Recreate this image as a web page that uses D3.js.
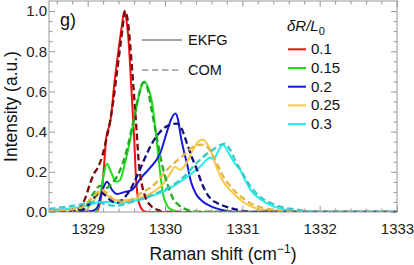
<!DOCTYPE html>
<html><head><meta charset="utf-8">
<script src="https://cdn.jsdelivr.net/npm/d3@7"></script>
<style>body{margin:0;background:#fff}svg{display:block}text{font-family:"Liberation Sans",Arial,sans-serif}</style>
</head><body><svg id="c" width="414" height="265"></svg>
<script>
// ---- data ----
const categories = ["0.1", "0.15", "0.2", "0.25", "0.3"];
const solidColors = ["#f01010", "#18e018", "#1818dc", "#f8c848", "#20eeee"];
const dashColors  = ["#7a0a0a", "#22aa22", "#10107a", "#e8b440", "#3cc8c8"];
const xTicks = [1329, 1330, 1331, 1332, 1333];
const yTicks = [0, 0.2, 0.4, 0.6, 0.8, 1.0];

// EKFG (solid)
const ekfg01X = [1328.5, 1329.11, 1329.15, 1329.18, 1329.21, 1329.24, 1329.28, 1329.30, 1329.34, 1329.39, 1329.44, 1329.474, 1329.50, 1329.535, 1329.567, 1329.60, 1329.625, 1329.65, 1329.69, 1329.74, 1329.81, 1333];
const ekfg01Y = [0, 0, 0.03, 0.09, 0.22, 0.37, 0.43, 0.47, 0.62, 0.78, 0.92, 1.0, 0.96, 0.82, 0.60, 0.38, 0.17, 0.07, 0.02, 0.003, 0, 0];
const ekfg015X = [1328.5, 1329.10, 1329.15, 1329.20, 1329.25, 1329.30, 1329.37, 1329.42, 1329.48, 1329.55, 1329.63, 1329.69, 1329.735, 1329.78, 1329.83, 1329.88, 1329.93, 1329.97, 1330.03, 1330.09, 1330.19, 1333];
const ekfg015Y = [0, 0, 0.05, 0.17, 0.24, 0.20, 0.15, 0.16, 0.24, 0.36, 0.52, 0.62, 0.65, 0.62, 0.55, 0.40, 0.22, 0.10, 0.03, 0.01, 0, 0];
const ekfg02X = [1328.5, 1328.90, 1329.056, 1329.121, 1329.185, 1329.25, 1329.315, 1329.379, 1329.483, 1329.573, 1329.69, 1329.806, 1329.935, 1330.026, 1330.078, 1330.136, 1330.168, 1330.207, 1330.246, 1330.285, 1330.336, 1330.401, 1330.479, 1330.582, 1330.737, 1330.905, 1333];
const ekfg02Y = [0, 0.003, 0.005, 0.02, 0.10, 0.15, 0.11, 0.09, 0.10, 0.11, 0.17, 0.22, 0.29, 0.40, 0.46, 0.49, 0.46, 0.37, 0.30, 0.24, 0.15, 0.09, 0.055, 0.03, 0.01, 0, 0];
const ekfg025X = [1328.5, 1328.966, 1329.069, 1329.172, 1329.263, 1329.354, 1329.483, 1329.612, 1329.806, 1329.974, 1330.065, 1330.129, 1330.194, 1330.272, 1330.362, 1330.427, 1330.485, 1330.543, 1330.595, 1330.66, 1330.737, 1330.815, 1330.892, 1331.009, 1331.164, 1331.358, 1331.552, 1333];
const ekfg025Y = [0.003, 0.01, 0.05, 0.10, 0.08, 0.06, 0.06, 0.065, 0.09, 0.14, 0.19, 0.225, 0.21, 0.24, 0.31, 0.35, 0.36, 0.34, 0.30, 0.23, 0.16, 0.12, 0.09, 0.05, 0.02, 0.007, 0, 0];
const ekfg03X = [1328.5, 1328.836, 1329.03, 1329.16, 1329.289, 1329.418, 1329.586, 1329.754, 1329.897, 1330.026, 1330.155, 1330.285, 1330.453, 1330.582, 1330.634, 1330.685, 1330.75, 1330.828, 1330.905, 1330.97, 1331.048, 1331.125, 1331.229, 1331.358, 1331.513, 1331.681, 1331.875, 1333];
const ekfg03Y = [0.01, 0.02, 0.035, 0.05, 0.05, 0.045, 0.055, 0.07, 0.09, 0.11, 0.14, 0.175, 0.225, 0.27, 0.265, 0.30, 0.335, 0.29, 0.24, 0.21, 0.15, 0.10, 0.065, 0.035, 0.015, 0.003, 0, 0];

// COM (dashed)
const com01X = [1328.5, 1328.84, 1328.90, 1328.97, 1329.03, 1329.08, 1329.13, 1329.19, 1329.24, 1329.29, 1329.33, 1329.38, 1329.43, 1329.47, 1329.483, 1329.52, 1329.55, 1329.59, 1329.63, 1329.66, 1329.70, 1329.75, 1329.82, 1329.91, 1330.01, 1333];
const com01Y = [0, 0, 0.02, 0.07, 0.14, 0.19, 0.22, 0.28, 0.36, 0.45, 0.55, 0.70, 0.85, 0.97, 1.0, 0.95, 0.83, 0.63, 0.42, 0.25, 0.14, 0.07, 0.03, 0.01, 0, 0];
const com015X = [1328.5, 1328.84, 1328.98, 1329.07, 1329.16, 1329.24, 1329.31, 1329.41, 1329.50, 1329.59, 1329.66, 1329.72, 1329.77, 1329.83, 1329.90, 1329.96, 1330.03, 1330.10, 1330.19, 1330.30, 1330.45, 1333];
const com015Y = [0, 0, 0.03, 0.09, 0.13, 0.12, 0.14, 0.20, 0.30, 0.45, 0.58, 0.645, 0.62, 0.50, 0.36, 0.24, 0.14, 0.07, 0.03, 0.01, 0, 0];
const com02X = [1328.5, 1328.90, 1329.00, 1329.08, 1329.16, 1329.22, 1329.29, 1329.37, 1329.47, 1329.55, 1329.64, 1329.73, 1329.83, 1329.94, 1330.04, 1330.155, 1330.22, 1330.285, 1330.35, 1330.414, 1330.479, 1330.543, 1330.608, 1330.673, 1330.841, 1330.97, 1331.125, 1333];
const com02Y = [0, 0.005, 0.03, 0.07, 0.10, 0.085, 0.06, 0.045, 0.07, 0.11, 0.18, 0.26, 0.34, 0.40, 0.43, 0.44, 0.41, 0.34, 0.27, 0.21, 0.14, 0.09, 0.06, 0.045, 0.02, 0.008, 0, 0];
const com025X = [1328.5, 1328.90, 1329.056, 1329.185, 1329.263, 1329.341, 1329.483, 1329.677, 1329.871, 1330.026, 1330.233, 1330.388, 1330.466, 1330.543, 1330.608, 1330.685, 1330.763, 1330.841, 1330.97, 1331.099, 1331.229, 1331.423, 1331.617, 1331.81, 1333];
const com025Y = [0.005, 0.02, 0.07, 0.11, 0.09, 0.06, 0.05, 0.09, 0.14, 0.21, 0.28, 0.33, 0.335, 0.325, 0.29, 0.23, 0.17, 0.13, 0.08, 0.045, 0.025, 0.01, 0.003, 0, 0];
const com03X = [1328.5, 1328.875, 1329.095, 1329.224, 1329.354, 1329.483, 1329.612, 1329.741, 1329.871, 1329.987, 1330.091, 1330.194, 1330.285, 1330.375, 1330.453, 1330.543, 1330.621, 1330.698, 1330.776, 1330.841, 1330.905, 1331.022, 1331.099, 1331.177, 1331.267, 1331.397, 1331.552, 1331.707, 1331.875, 1332.004, 1333];
const com03Y = [0.015, 0.035, 0.05, 0.04, 0.03, 0.04, 0.055, 0.07, 0.09, 0.11, 0.13, 0.16, 0.19, 0.23, 0.26, 0.29, 0.31, 0.33, 0.34, 0.31, 0.26, 0.18, 0.13, 0.095, 0.065, 0.04, 0.02, 0.012, 0.003, 0, 0];

const solidX = [ekfg01X, ekfg015X, ekfg02X, ekfg025X, ekfg03X];
const solidY = [ekfg01Y, ekfg015Y, ekfg02Y, ekfg025Y, ekfg03Y];
const dashX = [com01X, com015X, com02X, com025X, com03X];
const dashY = [com01Y, com015Y, com02Y, com025Y, com03Y];

// ---- chart ----
const svg = d3.select("#c");
const L = 49, R = 397, T = 1, B = 212;
const x = d3.scaleLinear().domain([1328.5, 1333]).range([L, R]);
const y = d3.scaleLinear().domain([0, 1.05]).range([B, T]);

svg.append("defs").append("clipPath").attr("id", "clip")
  .append("rect").attr("x", L).attr("y", T - 2).attr("width", R - L).attr("height", B - T + 2);

const line = d3.line().x(d => x(d[0])).y(d => y(d[1])).curve(d3.curveMonotoneX);
const plot = svg.append("g").attr("clip-path", "url(#clip)");

solidX.forEach((xs, i) => {
  plot.append("path").datum(xs.map((v, j) => [v, solidY[i][j]]))
    .attr("d", line).attr("fill", "none").attr("stroke", solidColors[i])
    .attr("stroke-width", 2);
});
dashX.forEach((xs, i) => {
  plot.append("path").datum(xs.map((v, j) => [v, dashY[i][j]]))
    .attr("d", line).attr("fill", "none").attr("stroke", dashColors[i])
    .attr("stroke-width", 2.3).attr("stroke-dasharray", "6.5,3.5");
});

// frame + ticks
const frameColor = "#999";
const xMinor = d3.range(1328.6, 1333.0, 0.2).filter(v => Math.abs(v - Math.round(v)) > 0.01);
const yMinor = d3.range(0.05, 1.05, 0.05).filter(v => Math.abs(v * 5 - Math.round(v * 5)) > 0.01);

function styleAxis(g) {
  g.select(".domain").remove();
  g.selectAll(".tick line").attr("stroke", frameColor);
  g.selectAll("text").attr("fill", "#222").style("font-size", "15px").style("font-family", "'Liberation Sans', Arial, sans-serif");
}
svg.append("g").attr("transform", `translate(0,${B})`)
  .call(d3.axisBottom(x).tickValues(xTicks).tickFormat(d3.format("d")).tickSize(-6).tickPadding(11)).call(styleAxis);
svg.append("g").attr("transform", `translate(0,${B})`)
  .call(d3.axisBottom(x).tickValues(xMinor).tickFormat("").tickSize(-3.5)).call(styleAxis);
svg.append("g").attr("transform", `translate(0,${T})`)
  .call(d3.axisTop(x).tickValues(xTicks).tickFormat("").tickSize(-6)).call(styleAxis);
svg.append("g").attr("transform", `translate(0,${T})`)
  .call(d3.axisTop(x).tickValues(xMinor).tickFormat("").tickSize(-3.5)).call(styleAxis);
svg.append("g").attr("transform", `translate(${L},0)`)
  .call(d3.axisLeft(y).tickValues(yTicks).tickFormat(d3.format(".1f")).tickSize(-6).tickPadding(2)).call(styleAxis);
svg.append("g").attr("transform", `translate(${L},0)`)
  .call(d3.axisLeft(y).tickValues(yMinor).tickFormat("").tickSize(-3.5)).call(styleAxis);
svg.append("g").attr("transform", `translate(${R},0)`)
  .call(d3.axisRight(y).tickValues(yTicks).tickFormat("").tickSize(-6)).call(styleAxis);
svg.append("g").attr("transform", `translate(${R},0)`)
  .call(d3.axisRight(y).tickValues(yMinor).tickFormat("").tickSize(-3.5)).call(styleAxis);

svg.append("rect").attr("x", L).attr("y", T).attr("width", R - L).attr("height", B - T)
  .attr("fill", "none").attr("stroke", frameColor).attr("stroke-width", 1);

// panel label
svg.append("text").attr("x", 60).attr("y", 26).style("font-size", "18px").attr("fill", "#111").text("g)");

// style legend
svg.append("line").attr("x1", 142).attr("x2", 182).attr("y1", 40).attr("y2", 40).attr("stroke", "#888").attr("stroke-width", 1.5);
svg.append("text").attr("x", 188).attr("y", 45).style("font-size", "14.5px").attr("fill", "#111").text("EKFG");
svg.append("line").attr("x1", 142).attr("x2", 182).attr("y1", 70).attr("y2", 70).attr("stroke", "#999").attr("stroke-width", 1.5).attr("stroke-dasharray", "6.5,3.5");
svg.append("text").attr("x", 188).attr("y", 75).style("font-size", "14.5px").attr("fill", "#111").text("COM");

// δR/L0 legend
const lt = svg.append("text").attr("x", 287).attr("y", 31).style("font-size", "15px").attr("fill", "#111");
lt.append("tspan").style("font-style", "italic").text("δR/L");
lt.append("tspan").attr("dy", 4).style("font-size", "11px").text("0");
categories.forEach((c, i) => {
  const yy = 49.3 + i * 18.7;
  svg.append("line").attr("x1", 288).attr("x2", 306).attr("y1", yy).attr("y2", yy).attr("stroke", solidColors[i]).attr("stroke-width", 2);
  svg.append("text").attr("x", 311).attr("y", yy + 5).style("font-size", "15px").attr("fill", "#111").text(c);
});

// axis titles
const xt = svg.append("text").attr("x", (L + R) / 2).attr("y", 260).attr("text-anchor", "middle").style("font-size", "17.5px").attr("fill", "#111");
xt.append("tspan").text("Raman shift (cm");
xt.append("tspan").attr("dy", -7).style("font-size", "12px").text("−1");
xt.append("tspan").attr("dy", 7).text(")");
svg.append("text").attr("transform", `translate(17,${(T + B) / 2}) rotate(-90)`).attr("text-anchor", "middle").style("font-size", "17.5px").attr("fill", "#111").text("Intensity (a.u.)");
</script></body></html>
